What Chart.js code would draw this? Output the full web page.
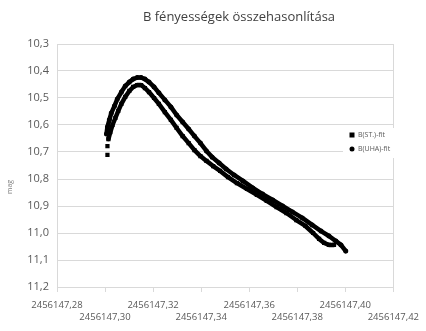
<!DOCTYPE html>
<html>
<head>
<meta charset="utf-8">
<script src="https://cdn.jsdelivr.net/npm/chart.js@4.4.1/dist/chart.umd.min.js"></script>
<style>
  body { margin: 0; background: #fff; }
  #wrap { width: 426px; height: 331px; }
</style>
</head>
<body>
<div id="wrap"><canvas id="chart" width="426" height="331"></canvas></div>
<script>
const chartTitle = 'B fényességek összehasonlítása';
const yTitle = 'mag';

const xTicks = [2456147.28, 2456147.30, 2456147.32, 2456147.34, 2456147.36, 2456147.38, 2456147.40, 2456147.42];
const yTicks = [10.3, 10.4, 10.5, 10.6, 10.7, 10.8, 10.9, 11.0, 11.1, 11.2];

// B(ST.)-fit
const stJd = [2456147.3010, 2456147.3010, 2456147.3014, 2456147.3022, 2456147.3031, 2456147.3043, 2456147.3055,
  2456147.3068, 2456147.3084, 2456147.3101, 2456147.3117, 2456147.3134, 2456147.3150, 2456147.3166,
  2456147.3183, 2456147.3204, 2456147.3224, 2456147.3249, 2456147.3274, 2456147.3298, 2456147.3323,
  2456147.3348, 2456147.3372, 2456147.3397, 2456147.3422, 2456147.3450, 2456147.3479, 2456147.3512,
  2456147.3549, 2456147.3591, 2456147.3632, 2456147.3673, 2456147.3714, 2456147.3755, 2456147.3796,
  2456147.3834, 2456147.3866, 2456147.3891, 2456147.3912, 2456147.3932, 2456147.3953];
const stMag = [10.711, 10.678, 10.652, 10.626, 10.600, 10.574, 10.548, 10.522, 10.496, 10.474, 10.459,
  10.452, 10.452, 10.463, 10.478, 10.500, 10.522, 10.552, 10.581, 10.611, 10.641, 10.667, 10.693,
  10.715, 10.733, 10.752, 10.770, 10.793, 10.815, 10.837, 10.859, 10.881, 10.904, 10.926, 10.952,
  10.974, 11.000, 11.022, 11.037, 11.044, 11.044];

// B(UHA)-fit
const uhaJd = [2456147.3006, 2456147.3010, 2456147.3018, 2456147.3026, 2456147.3039, 2456147.3051, 2456147.3068,
  2456147.3084, 2456147.3101, 2456147.3117, 2456147.3134, 2456147.3150, 2456147.3166, 2456147.3183,
  2456147.3204, 2456147.3224, 2456147.3249, 2456147.3274, 2456147.3298, 2456147.3323, 2456147.3348,
  2456147.3372, 2456147.3397, 2456147.3422, 2456147.3446, 2456147.3475, 2456147.3504, 2456147.3537,
  2456147.3574, 2456147.3615, 2456147.3656, 2456147.3698, 2456147.3739, 2456147.3780, 2456147.3821,
  2456147.3862, 2456147.3899, 2456147.3932, 2456147.3961, 2456147.3982, 2456147.4002];
const uhaMag = [10.633, 10.607, 10.581, 10.556, 10.530, 10.504, 10.478, 10.456, 10.441, 10.430, 10.424,
  10.424, 10.430, 10.441, 10.459, 10.481, 10.507, 10.533, 10.563, 10.589, 10.615, 10.641, 10.667,
  10.696, 10.719, 10.741, 10.763, 10.785, 10.807, 10.833, 10.856, 10.878, 10.900, 10.922, 10.944,
  10.970, 10.993, 11.011, 11.030, 11.044, 11.067];

const gridColor = '#d9d9d9';
const labelColor = '#595959';
Chart.defaults.font.family = '"Open Sans", sans-serif';

const fmt = (v, d) => v.toFixed(d).replace('.', ',');

// title, axis title and the legend box that sits over the plot
const extras = {
  id: 'extras',
  afterDraw(chart) {
    const c = chart.ctx;
    c.save();
    c.fillStyle = '#404040';
    c.font = '13px "Open Sans"';
    c.textAlign = 'center';
    c.textBaseline = 'middle';
    c.fillText(chartTitle, 239, 17);

    c.save();
    c.translate(10, 187);
    c.rotate(-Math.PI / 2);
    c.fillStyle = '#7f7f7f';
    c.font = '7px "Open Sans"';
    c.fillText(yTitle, 0, 0);
    c.restore();

    c.fillStyle = '#fff';
    c.fillRect(343, 128, 57, 30);
    c.font = '7px "Open Sans"';
    c.textAlign = 'left';
    chart.data.datasets.forEach((ds, i) => {
      const y = 135 + i * 14;
      c.fillStyle = '#000';
      if (ds.pointStyle === 'rect') {
        c.fillRect(349.5, y - 2.5, 5, 5);
      } else {
        c.beginPath();
        c.arc(352, y, 2.5, 0, Math.PI * 2);
        c.fill();
      }
      c.fillStyle = labelColor;
      c.fillText(ds.label, 358, y);
    });
    c.restore();
  }
};

const common = {
  pointRadius: 2.5,
  pointBorderWidth: 0,
  backgroundColor: '#000',
  borderColor: '#000',
  borderWidth: 4.5,
  borderJoinStyle: 'round',
  borderCapStyle: 'round',
  showLine: true
};

new Chart(document.getElementById('chart'), {
  type: 'scatter',
  data: {
    datasets: [
      Object.assign({
        label: 'B(ST.)-fit',
        data: stJd.map((x, i) => ({ x: x, y: stMag[i] })),
        pointStyle: 'rect',
        segment: {
          borderColor: s => s.p0DataIndex < 2 ? 'rgba(0,0,0,0)' : undefined
        }
      }, common, { pointRadius: 3 }),
      Object.assign({
        label: 'B(UHA)-fit',
        data: uhaJd.map((x, i) => ({ x: x, y: uhaMag[i] })),
        pointStyle: 'circle'
      }, common)
    ]
  },
  options: {
    responsive: false,
    animation: false,
    layout: { padding: { top: 44, right: 29, bottom: 0, left: 0 } },
    plugins: {
      legend: { display: false },
      title: { display: false },
      tooltip: { enabled: false }
    },
    scales: {
      x: {
        type: 'linear',
        min: xTicks[0],
        max: xTicks[xTicks.length - 1],
        afterBuildTicks: axis => { axis.ticks = xTicks.map(v => ({ value: v })); },
        afterFit: axis => { axis.height = 44; },
        border: { display: true, color: gridColor },
        grid: {
          color: c => c.index === xTicks.length - 1 ? gridColor : 'rgba(0,0,0,0)',
          tickColor: gridColor,
          tickLength: 5
        },
        ticks: {
          autoSkip: false,
          maxRotation: 0,
          padding: 7,
          color: labelColor,
          font: { size: 9.5, lineHeight: 1.25 },
          callback: (v, i) => i % 2 === 0 ? [fmt(v, 2), ''] : ['', fmt(v, 2)]
        }
      },
      y: {
        reverse: true,
        min: yTicks[0],
        max: yTicks[yTicks.length - 1],
        afterBuildTicks: axis => { axis.ticks = yTicks.map(v => ({ value: v })); },
        afterFit: axis => { axis.width = 57; },
        border: { display: true, color: gridColor },
        grid: { color: gridColor, drawTicks: false },
        ticks: {
          padding: 8,
          color: labelColor,
          font: { size: 11 },
          callback: v => fmt(v, 1)
        }
      }
    }
  },
  plugins: [extras]
});
</script>
</body>
</html>
